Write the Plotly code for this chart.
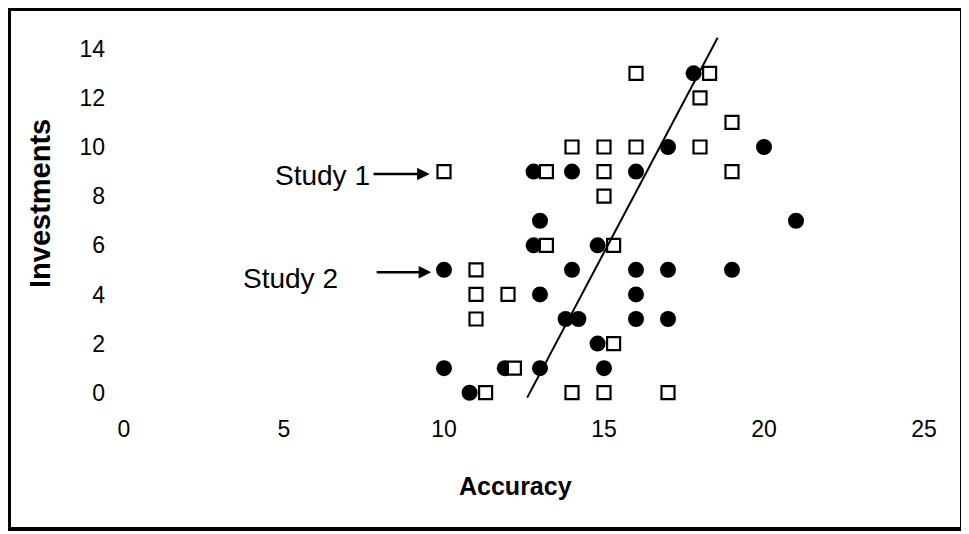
import plotly.graph_objects as go

# Study 1 (open squares)
study1_x = [10, 16, 14, 15, 16, 13.2, 15, 15, 18.3, 18, 19, 18, 19, 13.2, 15.3,
            11, 11, 12, 11, 15.3, 12.2, 11.3, 14, 15, 17]
study1_y = [9, 13, 10, 10, 10, 9, 9, 8, 13, 12, 11, 10, 9, 6, 6,
            5, 4, 4, 3, 2, 1, 0, 0, 0, 0]

# Study 2 (filled circles)
study2_x = [12.8, 14, 16, 13, 17.8, 17, 20, 21, 12.8, 14.8, 10, 14, 16, 19, 17,
            13, 16, 13.8, 14.2, 16, 17, 14.8, 10, 11.9, 13, 15, 10.8]
study2_y = [9, 9, 9, 7, 13, 10, 10, 7, 6, 6, 5, 5, 5, 5, 5,
            4, 4, 3, 3, 3, 3, 2, 1, 1, 1, 1, 0]

# Trend line end points
trend_x = [12.6, 18.55]
trend_y = [-0.2, 14.45]

x_ticks = [0, 5, 10, 15, 20, 25]
y_ticks = [0, 2, 4, 6, 8, 10, 12, 14]

FONT = "Liberation Sans, Arial, Helvetica, sans-serif"
# the page body has an 8px margin, so the figure is drawn 8px in from the window edge
W, H = 961, 526
L, R, T, B = 100, 29, 26, 129
PW, PH = W - L - R, H - T - B

fig = go.Figure()
fig.add_trace(go.Scatter(
    x=study2_x, y=study2_y, mode="markers", name="Study 2",
    marker=dict(symbol="circle", size=16, color="black", line=dict(width=0)),
    cliponaxis=False))
fig.add_trace(go.Scatter(
    x=study1_x, y=study1_y, mode="markers", name="Study 1",
    marker=dict(symbol="square", size=13, color="white",
                line=dict(color="black", width=2.2)),
    cliponaxis=False))
fig.add_trace(go.Scatter(
    x=trend_x, y=trend_y, mode="lines", name="Trend",
    line=dict(color="black", width=2)))

def px_to_paper(px, py):
    return (px - L) / PW, ((H - B) - py) / PH

x0, y0 = px_to_paper(1, 1)
x1, y1 = px_to_paper(954, 521)
fig.add_shape(type="rect", xref="paper", yref="paper", x0=x0, y0=y1, x1=x1, y1=y0,
              line=dict(color="black", width=4), fillcolor="rgba(0,0,0,0)", layer="above")

# Axis titles (placed as annotations for exact position)
ax_x, ax_y = px_to_paper(507, 478)
fig.add_annotation(x=ax_x, y=ax_y, xref="paper", yref="paper", text="<b>Accuracy</b>",
                   xanchor="center", yanchor="middle",
                   showarrow=False, font=dict(family=FONT, size=25, color="black"))
ay_x, ay_y = px_to_paper(32, 196)
fig.add_annotation(x=ay_x, y=ay_y, xref="paper", yref="paper", text="<b>Investments</b>",
                   xanchor="center", yanchor="middle",
                   textangle=-90, showarrow=False, font=dict(family=FONT, size=29, color="black"))

# Annotations
fig.add_annotation(x=6.2, y=8.85, xref="x", yref="y", text="Study 1", showarrow=False,
                   font=dict(family=FONT, size=28, color="black"))
fig.add_annotation(x=5.2, y=4.65, xref="x", yref="y", text="Study 2", showarrow=False,
                   font=dict(family=FONT, size=28, color="black"))
fig.add_annotation(x=9.55, y=8.9, ax=7.75, ay=8.9, xref="x", yref="y", axref="x", ayref="y",
                   text="", showarrow=True, arrowhead=2, arrowsize=1, arrowwidth=2.5,
                   arrowcolor="black")
fig.add_annotation(x=9.6, y=4.9, ax=7.85, ay=4.9, xref="x", yref="y", axref="x", ayref="y",
                   text="", showarrow=True, arrowhead=2, arrowsize=1, arrowwidth=2.5,
                   arrowcolor="black")

fig.update_layout(
    width=W, height=H,
    margin=dict(l=L, r=R, t=T, b=B, autoexpand=False),
    paper_bgcolor="white", plot_bgcolor="white",
    showlegend=False,
    font=dict(family=FONT, color="black"),
    xaxis=dict(range=[-0.5, 25.5], tickvals=x_ticks, ticktext=[str(v) for v in x_ticks],
               showgrid=False, zeroline=False, showline=False, ticks="",
               tickfont=dict(size=23, family=FONT), ticklabelstandoff=8,
               automargin=False),
    yaxis=dict(range=[-0.5, 14.6], tickvals=y_ticks, ticktext=[str(v) for v in y_ticks],
               showgrid=False, zeroline=False, showline=False, ticks="",
               tickfont=dict(size=23, family=FONT), ticklabelstandoff=2,
               automargin=False),
)

fig.write_html("out.html")
